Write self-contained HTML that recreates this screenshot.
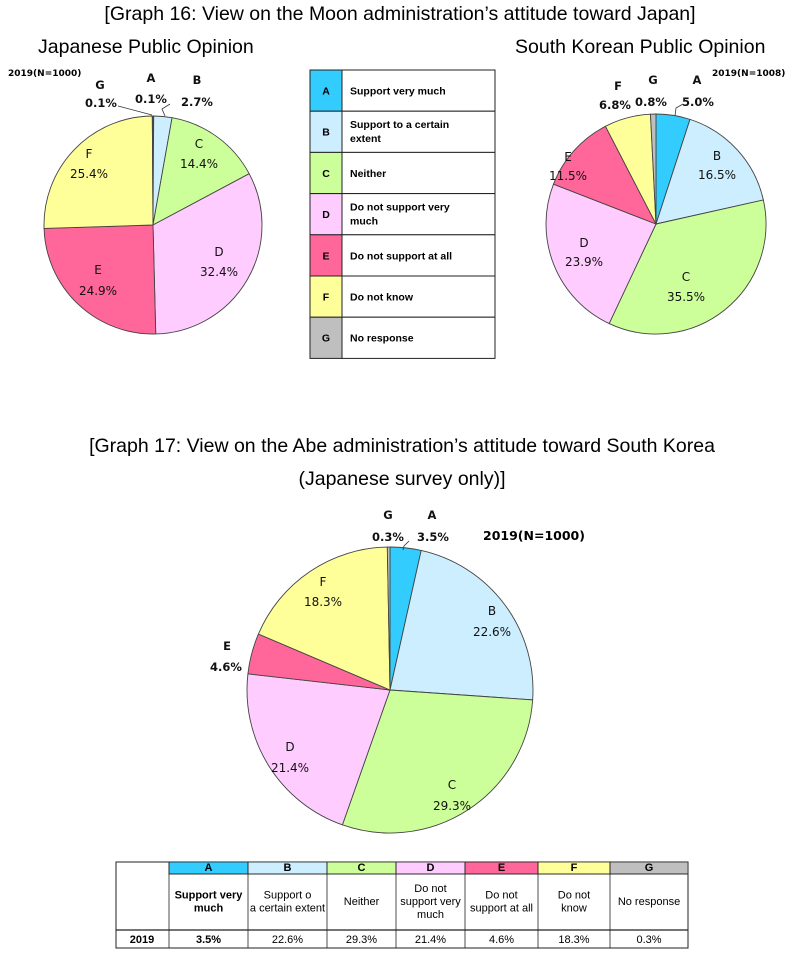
<!DOCTYPE html>
<html><head><meta charset="utf-8"><style>
body{margin:0;background:#fff;}
svg text{font-family:"DejaVu Sans","Liberation Sans",sans-serif;}
.t{font-family:"Liberation Sans",sans-serif;font-size:19.5px;fill:#000}
.l{font-size:12px;fill:#111}
.b{font-size:11.5px;font-weight:bold;fill:#111}
.s{font-size:9px;font-weight:bold}
.lg{font-size:10.5px;font-weight:bold;font-family:"Liberation Sans",sans-serif}
.tb{font-size:11px;font-family:"Liberation Sans",sans-serif}
</style></head><body>
<svg id="s" width="800" height="960" xmlns="http://www.w3.org/2000/svg">
<text class="t" x="400" y="20" text-anchor="middle">[Graph 16: View on the Moon administration’s attitude toward Japan]</text>
<text class="t" x="38" y="53">Japanese Public Opinion</text>
<text class="t" x="515" y="53">South Korean Public Opinion</text>
<text class="t" x="402" y="452" text-anchor="middle">[Graph 17: View on the Abe administration’s attitude toward South Korea</text>
<text class="t" x="402" y="485" text-anchor="middle">(Japanese survey only)]</text>
<g id="pies"></g>
<text class="s" x="8" y="76">2019(N=1000)</text>
<g class="b" text-anchor="middle">
<text x="100" y="89">G</text><text x="101" y="107">0.1%</text>
<text x="151" y="82">A</text><text x="151" y="103">0.1%</text>
<text x="197" y="84">B</text><text x="197" y="106">2.7%</text>
</g>
<path d="M118,106 L152,115 M170,104 L162,109 L165,116" stroke="#333" fill="none" stroke-width="0.8"/>
<g class="l" text-anchor="middle">
<text x="199" y="148">C</text><text x="199" y="168">14.4%</text>
<text x="89" y="158">F</text><text x="89" y="178">25.4%</text>
<text x="98" y="274">E</text><text x="98" y="295">24.9%</text>
<text x="219" y="256">D</text><text x="219" y="276">32.4%</text>
</g>
<text class="s" x="712" y="76">2019(N=1008)</text>
<g class="b" text-anchor="middle">
<text x="618" y="90">F</text><text x="615" y="109">6.8%</text>
<text x="653" y="84">G</text><text x="651" y="106">0.8%</text>
<text x="697" y="84">A</text><text x="698" y="106">5.0%</text>
</g>
<path d="M683,104 L676,108 L675,116" stroke="#333" fill="none" stroke-width="0.8"/>
<g class="l" text-anchor="middle">
<text x="568" y="161">E</text><text x="568" y="180">11.5%</text>
<text x="717" y="160">B</text><text x="717" y="179">16.5%</text>
<text x="584" y="247">D</text><text x="584" y="266">23.9%</text>
<text x="686" y="281">C</text><text x="686" y="301">35.5%</text>
</g>
<g class="b" text-anchor="middle">
<text x="388" y="519">G</text><text x="388" y="541">0.3%</text>
<text x="432" y="519">A</text><text x="433" y="541">3.5%</text>
<text x="227" y="650">E</text><text x="226" y="671">4.6%</text>
</g>
<text x="483" y="540" style="font-size:12.5px;font-weight:bold">2019(N=1000)</text>
<path d="M409,541 L404,546 L403,550" stroke="#333" fill="none" stroke-width="0.8"/>
<g class="l" text-anchor="middle">
<text x="323" y="586">F</text><text x="323" y="606">18.3%</text>
<text x="492" y="615">B</text><text x="492" y="636">22.6%</text>
<text x="290" y="751">D</text><text x="290" y="772">21.4%</text>
<text x="452" y="789">C</text><text x="452" y="810">29.3%</text>
</g>
<g id="legend"></g>
<g id="table"></g>
</svg>
<script>
var C=['#33ccff','#cceeff','#ccff99','#ffccff','#ff6699','#ffff99','#bfbfbf'];
var NS='http://www.w3.org/2000/svg';
function el(p,n,a,t){var e=document.createElementNS(NS,n);for(var k in a)e.setAttribute(k,a[k]);if(t!=null)e.textContent=t;p.appendChild(e);return e;}
function pie(cx,cy,r,v){var g=document.getElementById('pies'),tot=v.reduce(function(a,b){return a+b}),a=0;
for(var i=0;i<v.length;i++){var a2=a+v[i]/tot*2*Math.PI;
var x1=cx+r*Math.sin(a),y1=cy-r*Math.cos(a),x2=cx+r*Math.sin(a2),y2=cy-r*Math.cos(a2);
el(g,'path',{d:'M'+cx+','+cy+' L'+x1+','+y1+' A'+r+','+r+' 0 '+((a2-a)>Math.PI?1:0)+' 1 '+x2+','+y2+' Z',fill:C[i],stroke:'#444','stroke-width':'0.9'});a=a2;}}
pie(153,225,109,[0.1,2.7,14.4,32.4,24.9,25.4,0.1]);
pie(656,224,110,[5.0,16.5,35.5,23.9,11.5,6.8,0.8]);
pie(390,690,143,[3.5,22.6,29.3,21.4,4.6,18.3,0.3]);
var lg=document.getElementById('legend'),L=['A','B','C','D','E','F','G'],
T=[['Support very much'],['Support to a certain','extent'],['Neither'],['Do not  support very','much'],['Do not support at all'],['Do not know'],['No response']];
for(var i=0;i<7;i++){var y=70+i*41.2;
el(lg,'rect',{x:310,y:y,width:32,height:41.2,fill:C[i],stroke:'#222','stroke-width':1});
el(lg,'rect',{x:342,y:y,width:153,height:41.2,fill:'#fff',stroke:'#222','stroke-width':1});
el(lg,'text',{x:326,y:y+24.5,'text-anchor':'middle','class':'lg'},L[i]);
if(T[i].length==1)el(lg,'text',{x:350,y:y+24.5,'class':'lg'},T[i][0]);
else{el(lg,'text',{x:350,y:y+17,'class':'lg'},T[i][0]);el(lg,'text',{x:350,y:y+31,'class':'lg'},T[i][1]);}}
var tb=document.getElementById('table'),X=[116,169,248,327,396,465,538,610,688];
var R2=[['Support very','much'],['Support o','a certain extent'],['Neither'],['Do not','support very','much'],['Do not','support at all'],['Do not','know'],['No response']];
var R3=['3.5%','22.6%','29.3%','21.4%','4.6%','18.3%','0.3%'];
el(tb,'rect',{x:116,y:862,width:572,height:86,fill:'#fff',stroke:'#222'});
for(var i=0;i<7;i++){var x=X[i+1],w=X[i+2]-x,cx=x+w/2;
el(tb,'rect',{x:x,y:862,width:w,height:12,fill:C[i],stroke:'#222','stroke-width':0.8});
el(tb,'text',{x:cx,y:871,'text-anchor':'middle','class':'tb','font-weight':'bold','font-size':'9.5'},L[i]);
var r=R2[i],n=r.length,y0=905-(n-1)*6.5;
for(var j=0;j<n;j++)el(tb,'text',{x:cx,y:y0+j*13,'text-anchor':'middle','class':'tb','font-weight':i==0?'bold':'normal'},r[j]);
el(tb,'text',{x:cx,y:943,'text-anchor':'middle','class':'tb','font-weight':i==0?'bold':'normal'},R3[i]);}
for(var i=1;i<8;i++)el(tb,'line',{x1:X[i],y1:862,x2:X[i],y2:948,stroke:'#222','stroke-width':0.8});
el(tb,'line',{x1:116,y1:930,x2:688,y2:930,stroke:'#222','stroke-width':1.2});
el(tb,'line',{x1:169,y1:874,x2:688,y2:874,stroke:'#222','stroke-width':0.8});
el(tb,'text',{x:142,y:943,'text-anchor':'middle','class':'tb','font-weight':'bold'},'2019');
</script>
</body></html>
